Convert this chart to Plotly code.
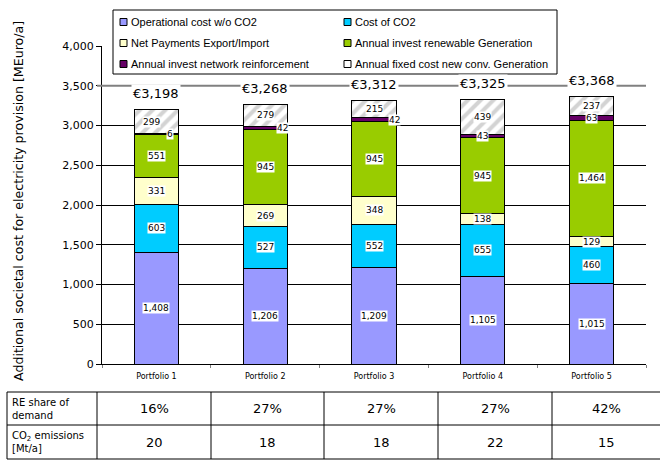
import plotly.graph_objects as go
import numpy as np

categories = ["Portfolio 1", "Portfolio 2", "Portfolio 3", "Portfolio 4", "Portfolio 5"]
series_names = ["Operational cost w/o CO2", "Cost of CO2", "Net Payments Export/Import",
                "Annual invest renewable Generation", "Annual invest network reinforcement",
                "Annual fixed cost new conv. Generation"]
op_cost = [1408, 1206, 1209, 1105, 1015]
co2_cost = [603, 527, 552, 655, 460]
net_payments = [331, 269, 348, 138, 129]
re_invest = [551, 945, 945, 945, 1464]
network_invest = [6, 42, 42, 43, 63]
fixed_conv = [299, 279, 215, 439, 237]
totals = [3198, 3268, 3312, 3325, 3368]
re_share = ["16%", "27%", "27%", "27%", "42%"]
co2_emissions = ["20", "18", "18", "22", "15"]
yticks = [0, 500, 1000, 1500, 2000, 2500, 3000, 3500, 4000]

series = [op_cost, co2_cost, net_payments, re_invest, network_invest, fixed_conv]
colors = ["#9999FF", "#00CCFF", "#FFFFCC", "#99CC00", "#660066", "#FFFFFF"]
label_xshift = [[0] * 5] * 4 + [[14, 17, 20, 0, 0], [-5, 0, 0, 0, 0]]

W, H = 660, 460
PLOT_L, PLOT_R, PLOT_T, PLOT_B = 102, 646, 46, 364


def px(x):
    return x / W


def py(y):
    return (H - y) / H


fig = go.Figure()
for name, vals, col in zip(series_names, series, colors):
    marker = dict(color=col, line=dict(color="black", width=1))
    if name.startswith("Annual fixed"):
        marker["pattern"] = dict(shape="/", fgcolor="#A8A8A8", bgcolor="white", size=9, solidity=0.45)
    fig.add_trace(go.Bar(x=categories, y=vals, name=name, marker=marker, width=0.405,
                         showlegend=False, hoverinfo="skip"))

annotations = []
cum = np.zeros(5)
for si, vals in enumerate(series):
    for i, v in enumerate(vals):
        annotations.append(dict(x=categories[i], y=cum[i] + v / 2, xref="x", yref="y",
                                text=f"{v:,}", showarrow=False, bgcolor="white",
                                xanchor="center", yanchor="middle",
                                font=dict(family="DejaVu Sans", size=9, color="black"),
                                borderpad=0, xshift=label_xshift[si][i]))
    cum += np.array(vals)

for i, t in enumerate(totals):
    annotations.append(dict(x=categories[i], y=t, xref="x", yref="y", text=f"€{t:,}",
                            showarrow=False, yshift=16, bgcolor="white", borderpad=1,
                            xanchor="center", yanchor="middle",
                            font=dict(family="DejaVu Sans", size=13, color="black")))

# Y-axis title
annotations.append(dict(x=px(18), y=py(201), xref="paper", yref="paper",
                        textangle=-90, xanchor="center", yanchor="middle",
                        text="Additional societal cost for electricity provision [MEuro/a]",
                        showarrow=False, font=dict(family="DejaVu Sans", size=12.6, color="black")))

shapes = []
# gray 3500 line
shapes.append(dict(type="line", xref="paper", yref="y", x0=px(97), x1=px(PLOT_R), y0=3500, y1=3500,
                   line=dict(color="#808080", width=2), layer="above"))

# Legend box (manual)
shapes.append(dict(type="rect", xref="paper", yref="paper", x0=px(113), x1=px(557), y0=py(10), y1=py(74),
                   line=dict(color="black", width=1), fillcolor="white", layer="above"))
leg_pos = [(120, 22), (344, 22), (120, 43), (344, 43), (120, 64), (344, 64)]
for (lx, ly), name, col in zip(leg_pos, series_names, colors):
    shapes.append(dict(type="rect", xref="paper", yref="paper", x0=px(lx), x1=px(lx + 7),
                       y0=py(ly - 3.5), y1=py(ly + 3.5), line=dict(color="black", width=1),
                       fillcolor=col, layer="above"))
    annotations.append(dict(x=px(lx + 9), y=py(ly), xref="paper", yref="paper", text=name,
                            xanchor="left", yanchor="middle", showarrow=False,
                            font=dict(family="Liberation Sans", size=11, color="black")))

# Table
col_edges = [7, 97, 211, 324, 438, 552, 660]
row_edges = [392, 425, 459]
for ry in row_edges:
    shapes.append(dict(type="line", xref="paper", yref="paper", x0=px(col_edges[0]), x1=px(col_edges[-1]),
                       y0=py(ry), y1=py(ry), line=dict(color="black", width=1)))
for cx in col_edges[:-1]:
    shapes.append(dict(type="line", xref="paper", yref="paper", x0=px(cx), x1=px(cx),
                       y0=py(row_edges[0]), y1=py(row_edges[-1]), line=dict(color="black", width=1)))
row_labels = ["RE share of<br>demand", "CO<sub>2</sub> emissions<br>[Mt/a]"]
row_values = [re_share, co2_emissions]
for r in range(2):
    yc = (row_edges[r] + row_edges[r + 1]) / 2
    annotations.append(dict(x=px(10), y=py(yc), xref="paper", yref="paper", text=row_labels[r],
                            xanchor="left", yanchor="middle", align="left", showarrow=False,
                            font=dict(family="DejaVu Sans", size=10, color="black")))
    for c in range(5):
        xc = (col_edges[c + 1] + col_edges[c + 2]) / 2
        annotations.append(dict(x=px(xc), y=py(yc), xref="paper", yref="paper", text=row_values[r][c],
                                xanchor="center", yanchor="middle", showarrow=False,
                                font=dict(family="DejaVu Sans", size=13, color="black")))

fig.update_layout(
    width=W, height=H, barmode="stack", bargap=0.6,
    margin=dict(l=0, r=0, t=0, b=0, pad=0, autoexpand=False),
    paper_bgcolor="white", plot_bgcolor="white",
    font=dict(family="DejaVu Sans", color="black"),
    xaxis=dict(domain=[px(PLOT_L), px(PLOT_R)], showline=True, linecolor="black", linewidth=1,
               ticks="outside", ticklen=3, tickcolor="#808080", tickson="boundaries", showgrid=False,
               ticklabelstandoff=4,
               tickfont=dict(family="DejaVu Sans", size=8, color="black")),
    yaxis=dict(domain=[py(PLOT_B), py(PLOT_T)], range=[0, 4000], tickvals=yticks, tickformat=",",
               showline=True, linecolor="black", linewidth=1, ticks="outside", ticklen=5,
               tickcolor="black", showgrid=True, gridcolor="black", gridwidth=1, zeroline=False,
               tickfont=dict(family="DejaVu Sans", size=11, color="black")),
    annotations=annotations, shapes=shapes,
)
fig.write_html("out.html", config={"displayModeBar": False},
               post_script="document.body.style.margin='0px';")
